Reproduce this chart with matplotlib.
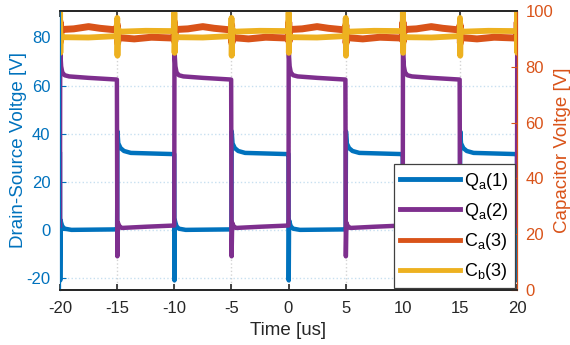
import numpy as np
import matplotlib
matplotlib.use("Agg")
import matplotlib.pyplot as plt
from matplotlib.lines import Line2D

plt.rcParams.update({
    "font.family": ["Liberation Sans", "DejaVu Sans"],
    "font.size": 12,
    "axes.unicode_minus": False,
})

# MATLAB default line colours
C = {"qa1": "#0072BD", "qa2": "#7E2F8E", "ca3": "#D95319", "cb3": "#EDB120"}

# one 10 us switching period (tau in us)
period = 10.0
t_start = -20.0
n_periods = 5

tau_qa1 = [0.00, 0.02, 0.05, 0.10, 0.20, 0.40, 1.00, 4.98, 5.00, 5.03, 5.10, 5.30, 5.60, 6.20, 9.98]
v_qa1 = [31.5, -21.0, 4.0, 3.0, 1.5, 0.5, 0.0, 0.2, 0.0, 41.0, 36.0, 34.0, 32.8, 32.0, 31.5]

tau_qa2 = [0.00, 0.02, 0.05, 0.10, 0.20, 0.40, 0.80, 2.50, 4.98, 5.02, 5.07, 5.15, 5.40, 7.50, 9.98]
v_qa2 = [1.8, 80.0, 72.0, 68.0, 65.5, 64.3, 63.8, 63.2, 62.5, -11.0, 3.0, 1.8, 0.8, 1.3, 1.8]

tau_ca3 = [0.00, 0.02, 0.04, 0.10, 0.30, 1.20, 2.50, 3.50, 4.98, 5.02, 5.04, 5.10, 5.30, 6.50, 8.00, 9.98]
v_ca3 = [90.3, 96.0, 89.0, 93.2, 93.4, 93.6, 94.4, 93.8, 93.2, 95.0, 88.5, 90.8, 90.4, 90.0, 90.6, 90.3]

tau_cb3 = [0.00, 0.01, 0.03, 0.06, 0.30, 2.50, 4.98, 5.01, 5.03, 5.06, 5.30, 7.50, 9.98]
v_cb3 = [92.8, 99.5, 85.0, 91.5, 90.6, 90.5, 91.0, 97.5, 84.0, 93.5, 92.6, 92.9, 92.8]

labels = [r"$\mathregular{Q_a(1)}$", r"$\mathregular{Q_a(2)}$",
          r"$\mathregular{C_a(3)}$", r"$\mathregular{C_b(3)}$"]
x_ticks = [-20, -15, -10, -5, 0, 5, 10, 15, 20]
yl_ticks = [-20, 0, 20, 40, 60, 80]
yr_ticks = [0, 20, 40, 60, 80, 100]


def repeat(tau, v):
    # the trace is periodic: lay the same period end to end
    t = np.concatenate([t_start + k * period + np.array(tau) for k in range(n_periods)])
    return t, np.tile(v, n_periods)


fig = plt.figure(figsize=(5.7, 3.45), dpi=100)
ax = fig.add_axes([60 / 570, 1 - 290 / 345, 457 / 570, 279 / 345])
ax2 = ax.twinx()

ax.plot(*repeat(tau_qa1, v_qa1), color=C["qa1"], lw=3.2)
ax.plot(*repeat(tau_qa2, v_qa2), color=C["qa2"], lw=3.2)
ax2.plot(*repeat(tau_ca3, v_ca3), color=C["ca3"], lw=5.0)
ax2.plot(*repeat(tau_cb3, v_cb3), color=C["cb3"], lw=4.2)

ax.set_xlim(-20, 20)
ax.set_ylim(-25, 91)
ax2.set_ylim(0, 100)
ax.set_xticks(x_ticks)
ax.set_yticks(yl_ticks)
ax2.set_yticks(yr_ticks)

ax.grid(True, axis="y", color=C["qa1"], alpha=0.22, ls=":", lw=1.0)
ax.grid(True, axis="x", color="#262626", alpha=0.2, ls=":", lw=1.0)

ax.tick_params(axis="x", direction="in", top=True, length=4, width=1.2,
               colors="#262626", pad=8)
ax.tick_params(axis="y", direction="in", length=4, colors=C["qa1"], pad=7)
ax2.tick_params(axis="y", direction="in", length=4, colors=C["ca3"], pad=6)
for a in (ax, ax2):
    a.spines["top"].set_color("#262626")
    a.spines["bottom"].set_color("#262626")
    a.spines["top"].set_linewidth(1.3)
    a.spines["bottom"].set_linewidth(1.3)
    a.spines["left"].set_color(C["qa1"])
    a.spines["right"].set_color(C["ca3"])

ax.set_xlabel("Time [us]", color="#262626", fontsize=13.5)
ax.set_ylabel("Drain-Source Voltge [V]", color=C["qa1"], fontsize=13.5)
ax2.set_ylabel("Capacitor Voltge [V]", color=C["ca3"], fontsize=13.5)
ax.xaxis.set_label_coords(0.5, -0.115)
ax.yaxis.set_label_coords(-0.072, 0.5)
ax2.yaxis.set_label_coords(1.082, 0.5)

handles = [Line2D([], [], color=C[k], lw=3.5) for k in ("qa1", "qa2", "ca3", "cb3")]
leg = ax2.legend(handles, labels, loc="lower right", fontsize=13, handlelength=3.3,
                 handletextpad=0.25, labelspacing=0.5, borderaxespad=0.1,
                 borderpad=0.35, fancybox=False, framealpha=1, edgecolor="#404040")
leg.get_frame().set_linewidth(0.9)

fig.savefig("out.png", dpi=100)
